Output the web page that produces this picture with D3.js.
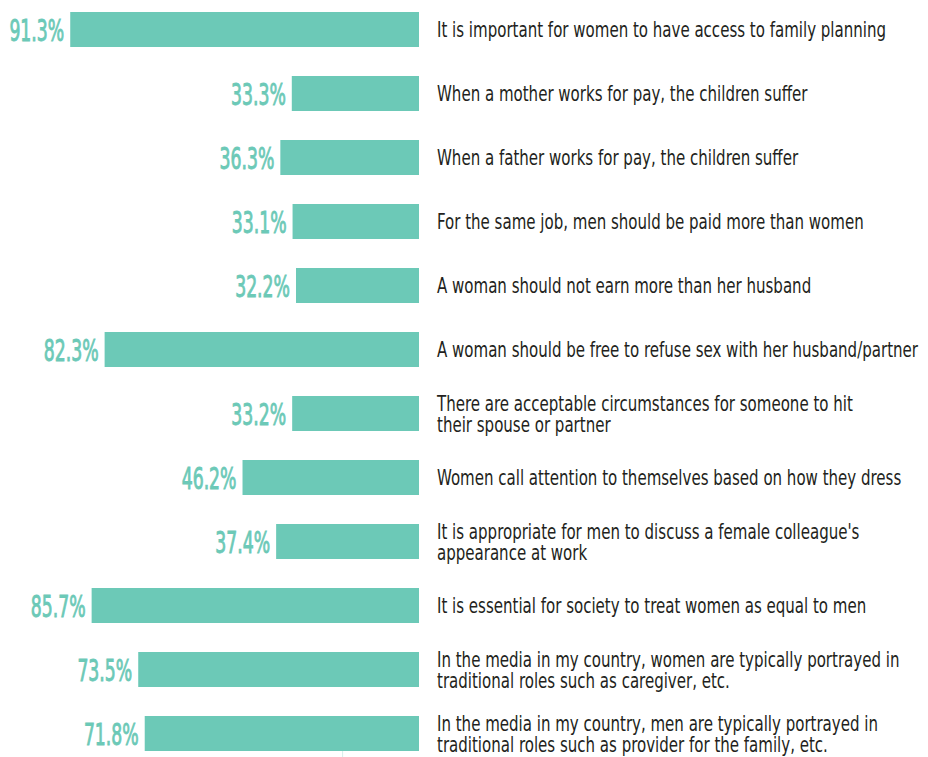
<!DOCTYPE html>
<html>
<head>
<meta charset="utf-8">
<script src="https://cdn.jsdelivr.net/npm/d3@7"></script>
<style>
  body { margin: 0; background: #fff; }
  svg text { font-family: "DejaVu Sans Condensed", "DejaVu Sans", sans-serif; }
</style>
</head>
<body>
<svg id="chart" width="928" height="757"></svg>
<script>
/* Statements (one or two lines each) */
var statements = [
    ["It is important for women to have access to family planning"],
    ["When a mother works for pay, the children suffer"],
    ["When a father works for pay, the children suffer"],
    ["For the same job, men should be paid more than women"],
    ["A woman should not earn more than her husband"],
    ["A woman should be free to refuse sex with her husband/partner"],
    ["There are acceptable circumstances for someone to hit", "their spouse or partner"],
    ["Women call attention to themselves based on how they dress"],
    ["It is appropriate for men to discuss a female colleague's", "appearance at work"],
    ["It is essential for society to treat women as equal to men"],
    ["In the media in my country, women are typically portrayed in", "traditional roles such as caregiver, etc."],
    ["In the media in my country, men are typically portrayed in", "traditional roles such as provider for the family, etc."]
];
var percents = [91.3, 33.3, 36.3, 33.1, 32.2, 82.3, 33.2, 46.2, 37.4, 85.7, 73.5, 71.8];

var teal = "#6cc9b7";
var svg = d3.select("#chart");

/* no condensed DIN available, so squeeze DejaVu Condensed horizontally */
var labelSqueeze = 0.76,
    valueSqueeze = 0.64;

/* Scales: bars grow leftwards from the baseline */
var x = d3.scaleLinear().domain([0, 100]).range([419, 37]);
var y = d3.scaleBand()
    .domain(d3.range(percents.length))
    .range([-2.5, 765.5])
    .paddingInner(29 / 64)
    .paddingOuter(29 / 128);

var data = percents.map(function(p, i) { return { value: p, lines: statements[i], i: i }; });

/* faint stray tick at the bottom */
svg.append("line")
    .attr("x1", x(20)).attr("x2", x(20))
    .attr("y1", y(11) + y.bandwidth()).attr("y2", 757)
    .attr("stroke", "#d5efea").attr("stroke-width", 1);

svg.selectAll("rect.bar")
    .data(data)
    .enter()
    .append("rect")
    .attr("class", "bar")
    .attr("x", function(d) { return x(d.value); })
    .attr("y", function(d) { return y(d.i); })
    .attr("width", function(d) { return x(0) - x(d.value); })
    .attr("height", y.bandwidth())
    .attr("fill", teal);

/* value labels (a thin stroke makes them a bit heavier, like the original) */
svg.selectAll("text.value")
    .data(data)
    .enter()
    .append("text")
    .attr("class", "value")
    .attr("transform", function(d) {
        return "translate(" + (x(d.value) - 6) + "," + (y(d.i) + y.bandwidth() / 2 + 11) + ") scale(" + valueSqueeze + ",1)";
    })
    .attr("text-anchor", "end")
    .attr("fill", teal)
    .attr("stroke", teal)
    .attr("stroke-width", 0.9)
    .style("font-size", "30px")
    .text(function(d) { return d.value.toFixed(1) + "%"; });

/* statement labels */
var labels = svg.selectAll("text.label")
    .data(data)
    .enter()
    .append("text")
    .attr("class", "label")
    .attr("fill", "#231f20")
    .style("font-size", "22px")
    .attr("transform", function(d) {
        var cy = y(d.i) + y.bandwidth() / 2;
        var base = d.lines.length == 1 ? cy + 7.5 : cy - 3;
        return "translate(" + (x(0) + 18) + "," + base + ") scale(" + labelSqueeze + ",1)";
    });

labels.selectAll("tspan")
    .data(function(d) { return d.lines; })
    .enter()
    .append("tspan")
    .attr("x", 0)
    .attr("dy", function(d, i) { return i == 0 ? 0 : 22; })
    .text(function(d) { return d; });
</script>
</body>
</html>
